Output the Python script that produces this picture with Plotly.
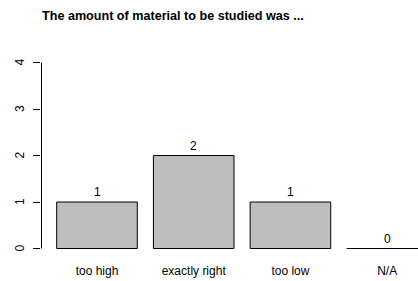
import plotly.graph_objects as go

categories = ["too high", "exactly right", "too low", "N/A"]
counts = [1, 2, 1, 0]
y_ticks = [0, 1, 2, 3, 4]
title_text = "The amount of material to be studied was ..."

width_bar = 1.0
space = 0.2
centers = [space + width_bar / 2 + i * (width_bar + space) for i in range(len(categories))]

FONT = "Liberation Sans, Arial, Helvetica, sans-serif"
x_range = [0.0052, 4.683]
y_range = [-0.161, 4.162]
plot_w = 418 - 41
half_px_x = (x_range[1] - x_range[0]) / plot_w / 2

fig = go.Figure()
fig.add_trace(go.Bar(
    x=centers, y=counts, width=width_bar,
    marker=dict(color="#BEBEBE", line=dict(color="black", width=1)),
    hoverinfo="skip", showlegend=False,
))

# zero-height bars drawn as a flat line (as R does)
for c, v in zip(centers, counts):
    if v == 0:
        fig.add_shape(type="line", xref="x", yref="y",
                      x0=c - width_bar / 2, x1=c + width_bar / 2, y0=v, y1=v,
                      line=dict(color="black", width=1))

# value labels above bars
for c, v in zip(centers, counts):
    fig.add_annotation(x=c, y=v, text=str(v), showarrow=False,
                       yanchor="middle", yshift=10,
                       font=dict(family=FONT, size=12, color="black"))

# y axis line only from 0 to 4
fig.add_shape(type="line", xref="x", yref="y",
              x0=x_range[0] + half_px_x, x1=x_range[0] + half_px_x,
              y0=min(y_ticks), y1=max(y_ticks), line=dict(color="black", width=1))

# rotated y tick labels (R style)
for t in y_ticks:
    fig.add_annotation(xref="paper", x=0, yref="y", y=t, text=str(t),
                       showarrow=False, textangle=-90, xanchor="center",
                       yanchor="middle", xshift=-21,
                       font=dict(family=FONT, size=12, color="black"))

fig.update_layout(
    width=418, height=281,
    margin=dict(l=41, r=0, t=55, b=25, pad=0),
    plot_bgcolor="white", paper_bgcolor="white",
    font=dict(family=FONT, size=12, color="black"),
    title=dict(text="<b>" + title_text + "</b>", x=42 / 418, xanchor="left",
               xref="container",
               y=1 - 16 / 281, yanchor="middle",
               font=dict(family=FONT, size=12.6, color="black")),
    xaxis=dict(range=x_range, tickvals=centers, ticktext=categories,
               showgrid=False, zeroline=False, showline=False, ticks="",
               automargin=False,
               ticklabelstandoff=6, tickfont=dict(size=12)),
    yaxis=dict(range=y_range, tickvals=y_ticks, showticklabels=False,
               showgrid=False, zeroline=False, showline=False,
               automargin=False,
               ticks="outside", ticklen=7, tickcolor="black", tickwidth=1),
)

fig.write_html("out.html", config={"displayModeBar": False},
               post_script="document.body.style.margin='0';document.body.style.overflow='hidden';")
